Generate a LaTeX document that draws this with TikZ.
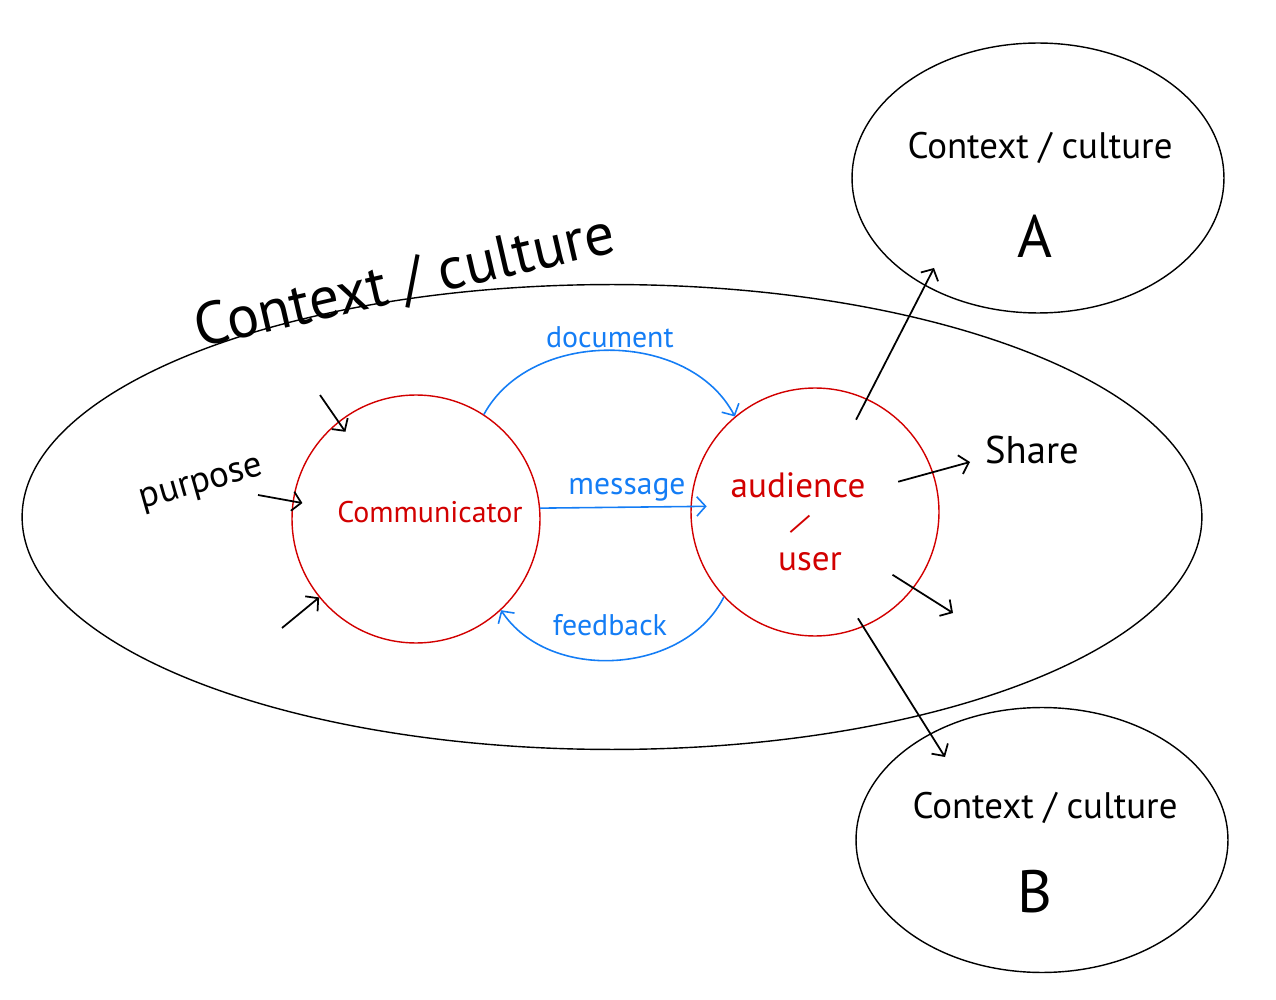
\documentclass[tikz,border=0pt]{standalone}
\usepackage{fontspec}
\setmainfont{PT Sans}
\usetikzlibrary{arrows.meta,shapes.geometric,calc}
\definecolor{commred}{RGB}{210,0,0}
\definecolor{flowblue}{RGB}{20,125,245}

\begin{document}
\begin{tikzpicture}[x=0.02cm, y=-0.02cm, >={Straight Barb[length=5pt,width=11pt]}]
	\tikzset{ctx/.style={draw, ellipse, line width=0.8pt, inner sep=0pt},
		party/.style={draw=commred, circle, line width=0.8pt, minimum size=4.96cm, inner sep=0pt},
		flow/.style={->, draw=flowblue, line width=0.9pt},
		pointer/.style={->, line width=1pt},
		hand/.style={font=\fontsize{#1}{#1}\selectfont, inner sep=1pt},
		hand/.default=18
	}
	\useasboundingbox (0,0) rectangle (1276,1000);

	% the contexts
	\node [ctx, minimum width=23.6cm, minimum height=9.3cm] (ctxmain) at (612,517) {};
	\node [ctx, minimum width=7.44cm, minimum height=5.4cm] (ctxA) at (1038,178) {};
	\node [ctx, minimum width=7.44cm, minimum height=5.3cm] (ctxB) at (1042,840) {};
	\node [hand=34, rotate=13] (ctxmainlabel) at (405,283) {Context / culture};
	\node [hand=21] (ctxAlabel) at (1040,148) {Context / culture};
	\node [hand=34] (labA) at (1035,236) {A};
	\node [hand=21] (ctxBlabel) at (1045,808) {Context / culture};
	\node [hand=34] (labB) at (1035,892) {B};

	% the two parties
	\node [party] (comm) at (416,519) {};
	\node [party] (aud) at (815,512) {};
	\node [hand=17, text=commred] (commlabel) at (430,512) {Communicator};
	\node [hand=20, text=commred] (audlabel) at (798,485) {audience};
	\node [hand=16, text=commred, rotate=-25] (slash) at (800,524) {/};
	\node [hand=20, text=commred] (userlabel) at (810,562) {user};

	% flows between them
	\draw[flow] (comm.57) to[bend left=62] node[hand=17, text=flowblue, above] (doclabel) {document} (aud.130);
	\draw[flow] (comm.5) -- ($(aud)!0.87!(aud.177)$);
	\node [hand=18, text=flowblue] (msglabel) at (627,490) {message};
	\draw[flow] (aud.223) to[bend left=60] (comm.313);
	\node [hand=17, text=flowblue] (fblabel) at (610,625) {feedback};

	% inputs to the communicator
	\node [hand=21, rotate=16] (purpose) at (202,486) {purpose};
	\coordinate (p1) at (258,495);
	\coordinate (p2) at (320,395);
	\coordinate (p3) at (282,628);
	\draw[pointer] (p1) -- ($(comm)!0.92!(comm.172)$);
	\draw[pointer] (p2) -- ($(comm)!0.9!(comm.129)$);
	\draw[pointer] (p3) -- (comm.219);

	% outputs of the audience
	\node [hand=22] (share) at (1032,450) {Share};
	\coordinate (inA) at (934,268);
	\coordinate (outS) at (970,462);
	\coordinate (outR) at (953,613);
	\coordinate (inB) at (945,757);
	\draw[pointer] ($(aud)!0.81!(aud.66)$) -- (inA);
	\draw[pointer] ($(aud)!0.71!(aud.20)$) -- (outS);
	\draw[pointer] ($(aud)!0.8!(aud.-39)$) -- (outR);
	\draw[pointer] ($(aud)!0.92!(aud.-68)$) -- (inB);

\end{tikzpicture}
\end{document}
